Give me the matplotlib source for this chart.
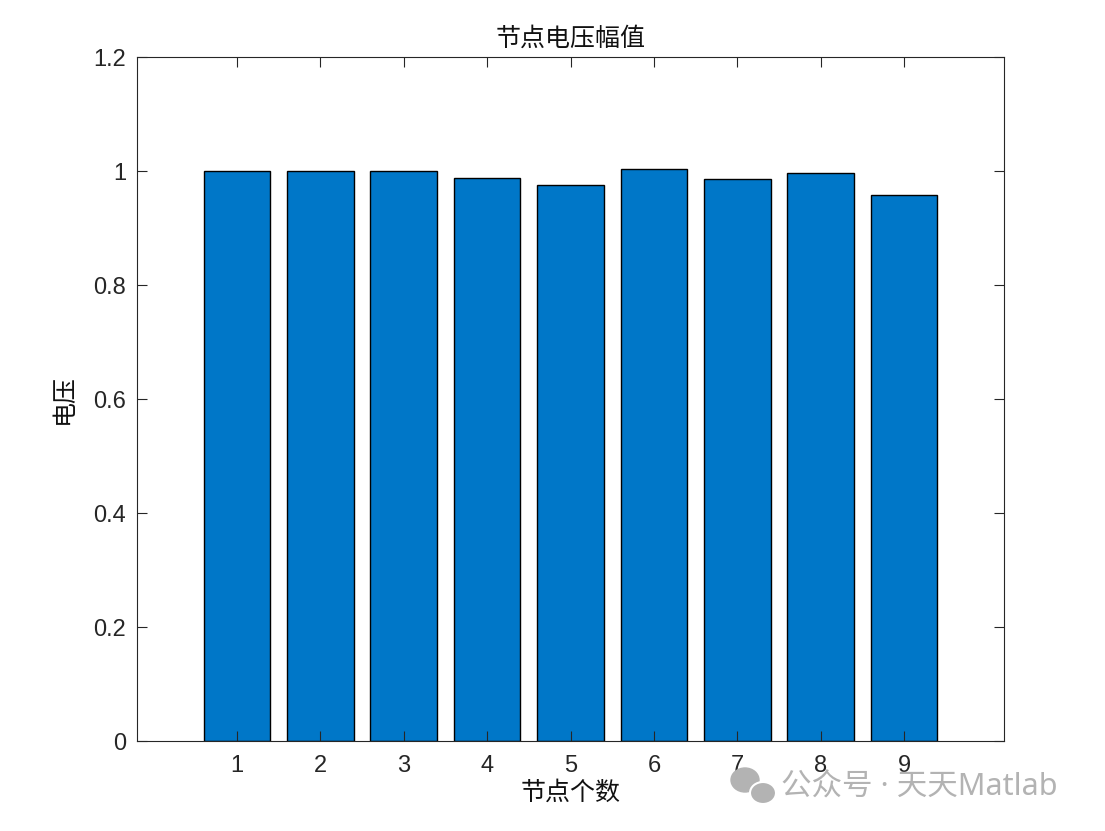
import matplotlib
matplotlib.use('Agg')
import matplotlib.pyplot as plt
from matplotlib.patches import Ellipse
import numpy as np

# 数据
nodes = [1, 2, 3, 4, 5, 6, 7, 8, 9]
voltage = [1.000, 1.000, 1.000, 0.987, 0.975, 1.003, 0.986, 0.996, 0.958]
y_ticks = [0, 0.2, 0.4, 0.6, 0.8, 1, 1.2]
y_tick_labels = ['0', '0.2', '0.4', '0.6', '0.8', '1', '1.2']

plt.rcParams['font.family'] = ['Liberation Sans', 'Noto Sans CJK SC', 'DejaVu Sans']
cjk = ['Noto Sans CJK SC', 'DejaVu Sans']

fig = plt.figure(figsize=(11.05, 8.31), dpi=100)
ax = fig.add_axes([0.124, 0.1083, 0.7846, 0.8231])

ax.bar(nodes, voltage, width=0.8, color='#0077c8', edgecolor='black', linewidth=1.0)

ax.set_xlim(-0.2, 10.2)
ax.set_ylim(0, 1.2)
ax.set_xticks(nodes)
ax.set_yticks(y_ticks)
ax.set_yticklabels(y_tick_labels)

ax.tick_params(direction='in', top=True, right=True, length=7, width=0.8,
               labelsize=17, colors='#262626', pad=8)
ax.tick_params(axis='x', pad=10)
for s in ax.spines.values():
    s.set_color('#262626')
    s.set_linewidth(0.8)

ax.set_title('节点电压幅值', family=cjk, fontsize=18, color='#111111', pad=8)
ax.set_xlabel('节点个数', family=cjk, fontsize=18, color='#111111', labelpad=2)
ax.set_ylabel('电压', family=cjk, fontsize=18, color='#111111', labelpad=12)

# 水印 (微信图标 + 文字)
W, H = 1105, 831
fig.patches.append(Ellipse((745 / W, 1 - 780 / H), 28 / W, 24 / H,
                           transform=fig.transFigure, color='#b3b3b3'))
fig.patches.append(Ellipse((763 / W, 1 - 793 / H), 26 / W, 22 / H,
                           transform=fig.transFigure, color='#b3b3b3',
                           ec='white', lw=1.5))
fig.text(781 / W, 1 - 788 / H, '公众号 · 天天Matlab', family=['Noto Sans', 'Noto Sans CJK SC'],
         fontsize=22, color='#b3b3b3', ha='left', va='center')

fig.savefig('out.png', dpi=100, facecolor='white')
